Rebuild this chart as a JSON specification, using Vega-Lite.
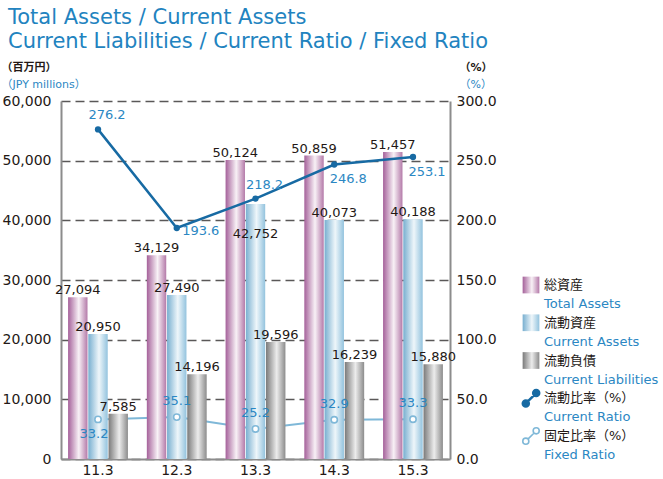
{
  "$schema": "https://vega.github.io/schema/vega-lite/v6.json",
  "background": "white",
  "padding": {"left": 1, "top": 7, "right": 0, "bottom": 0},
  "title": {
    "text": ["Total Assets / Current Assets", "Current Liabilities / Current Ratio / Fixed Ratio"],
    "anchor": "start",
    "frame": "bounds",
    "dx": 7,
    "offset": 9,
    "fontSize": 21,
    "lineHeight": 24,
    "fontWeight": "normal",
    "color": "#2283bf"
  },
  "datasets": {
    "fin": [
      {"year": "11.3", "total_assets": 27094, "current_assets": 20950, "current_liabilities": 7585, "current_ratio": 276.2, "fixed_ratio": 33.2},
      {"year": "12.3", "total_assets": 34129, "current_assets": 27490, "current_liabilities": 14196, "current_ratio": 193.6, "fixed_ratio": 35.1},
      {"year": "13.3", "total_assets": 50124, "current_assets": 42752, "current_liabilities": 19596, "current_ratio": 218.2, "fixed_ratio": 25.2},
      {"year": "14.3", "total_assets": 50859, "current_assets": 40073, "current_liabilities": 16239, "current_ratio": 246.8, "fixed_ratio": 32.9},
      {"year": "15.3", "total_assets": 51457, "current_assets": 40188, "current_liabilities": 15880, "current_ratio": 253.1, "fixed_ratio": 33.3}
    ],
    "legend": [
      {"order": 1, "key": "total_assets", "ja": "総資産", "en": "Total Assets"},
      {"order": 2, "key": "current_assets", "ja": "流動資産", "en": "Current Assets"},
      {"order": 3, "key": "current_liabilities", "ja": "流動負債", "en": "Current Liabilities"},
      {"order": 4, "key": "current_ratio", "ja": "流動比率（%）", "en": "Current Ratio"},
      {"order": 5, "key": "fixed_ratio", "ja": "固定比率（%）", "en": "Fixed Ratio"}
    ]
  },
  "spacing": 73,
  "bounds": "flush",
  "hconcat": [
    {
      "width": 389,
      "height": 358,
      "data": {"name": "fin"},
      "layer": [
        {
          "mark": {"type": "line", "color": "#7fb8d8", "strokeWidth": 2},
          "encoding": {
            "x": {"field": "year", "type": "nominal", "scale": {"paddingInner": 0.24, "paddingOuter": 0.09}, "axis": null},
            "y": {"field": "fixed_ratio", "type": "quantitative", "scale": {"domain": [0, 300]}, "axis": null}
          }
        },
        {
          "transform": [{"fold": ["total_assets", "current_assets", "current_liabilities"], "as": ["series", "amount"]}],
          "encoding": {
            "x": {
              "field": "year", "type": "nominal",
              "scale": {"paddingInner": 0.24, "paddingOuter": 0.09},
              "axis": {
                "orient": "bottom", "labelAngle": 0, "labelFontSize": 14, "labelColor": "#231815", "labelPadding": 4,
                "ticks": false, "domainColor": "#8c8c8c", "domainWidth": 2, "grid": false,
                "title": "（%）", "titleColor": "#2b87c3", "titleFontSize": 11, "titleFontWeight": "normal",
                "titleX": 398, "titleY": -375, "titleAlign": "left", "titleBaseline": "middle", "titleAngle": 0
              }
            },
            "xOffset": {"field": "series", "type": "nominal", "scale": {"domain": ["total_assets", "current_assets", "current_liabilities"], "paddingInner": 0.04}},
            "y": {
              "field": "amount", "type": "quantitative",
              "scale": {"domain": [0, 60000]},
              "axis": {
                "orient": "left", "values": [0, 10000, 20000, 30000, 40000, 50000, 60000], "format": ",.0f",
                "labelFontSize": 14, "labelColor": "#231815", "labelPadding": 10, "ticks": false,
                "domainColor": "#8c8c8c", "domainWidth": 2,
                "grid": true, "gridDash": [9, 5], "gridColor": "#5a5858", "gridWidth": 1.3,
                "title": "（百万円）", "titleColor": "#231815", "titleFontSize": 11, "titleFontWeight": "bold",
                "titleX": -60, "titleY": -34, "titleAlign": "left", "titleBaseline": "middle", "titleAngle": 0
              }
            }
          },
          "layer": [
            {
              "transform": [{"filter": "datum.series === 'total_assets'"}],
              "mark": {"type": "bar", "fill": {"gradient": "linear", "x1": 0, "x2": 1, "y1": 0, "y2": 0, "stops": [{"offset": 0, "color": "#a5619a"}, {"offset": 0.55, "color": "#f8f1f6"}, {"offset": 1, "color": "#b47aa9"}]}}
            },
            {
              "transform": [{"filter": "datum.series === 'current_assets'"}],
              "mark": {"type": "bar", "fill": {"gradient": "linear", "x1": 0, "x2": 1, "y1": 0, "y2": 0, "stops": [{"offset": 0, "color": "#78afd0"}, {"offset": 0.55, "color": "#eef6fa"}, {"offset": 1, "color": "#93c3de"}]}}
            },
            {
              "transform": [{"filter": "datum.series === 'current_liabilities'"}],
              "mark": {"type": "bar", "fill": {"gradient": "linear", "x1": 0, "x2": 1, "y1": 0, "y2": 0, "stops": [{"offset": 0, "color": "#7a7a7a"}, {"offset": 0.55, "color": "#ececec"}, {"offset": 1, "color": "#8c8c8c"}]}}
            },
            {
              "transform": [{"filter": "!(datum.year === '13.3' && datum.series === 'current_assets')"}],
              "mark": {"type": "text", "baseline": "alphabetic", "dy": -3, "fontSize": 13, "color": "#231815"},
              "encoding": {"text": {"field": "amount", "type": "quantitative", "format": ","}}
            },
            {
              "transform": [{"filter": "datum.year === '13.3' && datum.series === 'current_assets'"}],
              "mark": {"type": "text", "baseline": "alphabetic", "dy": 34, "fontSize": 13, "color": "#231815"},
              "encoding": {"text": {"field": "amount", "type": "quantitative", "format": ","}}
            }
          ]
        },
        {
          "encoding": {
            "x": {
              "field": "year", "type": "nominal",
              "scale": {"paddingInner": 0.24, "paddingOuter": 0.09},
              "axis": {
                "orient": "top", "labels": false, "ticks": false, "domain": false, "grid": false,
                "title": "（JPY millions）", "titleColor": "#2b87c3", "titleFontSize": 11, "titleFontWeight": "normal",
                "titleX": -60, "titleY": -17, "titleAlign": "left", "titleBaseline": "middle", "titleAngle": 0
              }
            }
          },
          "layer": [
            {
              "mark": {"type": "point", "filled": true, "fill": "white", "stroke": "#7fb8d8", "strokeWidth": 1.6, "size": 40, "opacity": 1},
              "encoding": {
                "y": {
                  "field": "fixed_ratio", "type": "quantitative", "scale": {"domain": [0, 300]},
                  "axis": {
                    "orient": "right", "values": [0, 50, 100, 150, 200, 250, 300], "format": ".1f",
                    "labelFontSize": 14, "labelColor": "#231815", "labelPadding": 6, "ticks": false,
                    "domainColor": "#8c8c8c", "domainWidth": 2, "grid": false,
                    "title": "（%）", "titleColor": "#231815", "titleFontSize": 11, "titleFontWeight": "bold",
                    "titleX": 9, "titleY": -34, "titleAlign": "left", "titleBaseline": "middle", "titleAngle": 0
                  }
                }
              }
            },
            {
              "mark": {"type": "line", "color": "#176aa3", "strokeWidth": 2.5},
              "encoding": {"y": {"field": "current_ratio", "type": "quantitative"}}
            },
            {
              "mark": {"type": "point", "filled": true, "color": "#176aa3", "size": 40, "opacity": 1},
              "encoding": {"y": {"field": "current_ratio", "type": "quantitative"}}
            },
            {
              "transform": [{"filter": "datum.year === '11.3' || datum.year === '13.3'"}],
              "mark": {"type": "text", "fontSize": 13, "color": "#2b87c3", "baseline": "middle", "dx": 9, "dy": -14},
              "encoding": {"y": {"field": "current_ratio", "type": "quantitative"}, "text": {"field": "current_ratio", "type": "quantitative", "format": ".1f"}}
            },
            {
              "transform": [{"filter": "datum.year === '14.3' || datum.year === '15.3'"}],
              "mark": {"type": "text", "fontSize": 13, "color": "#2b87c3", "baseline": "middle", "dx": 14, "dy": 15},
              "encoding": {"y": {"field": "current_ratio", "type": "quantitative"}, "text": {"field": "current_ratio", "type": "quantitative", "format": ".1f"}}
            },
            {
              "transform": [{"filter": "datum.year === '12.3'"}],
              "mark": {"type": "text", "fontSize": 13, "color": "#2b87c3", "baseline": "middle", "dx": 24, "dy": 3},
              "encoding": {"y": {"field": "current_ratio", "type": "quantitative"}, "text": {"field": "current_ratio", "type": "quantitative", "format": ".1f"}}
            },
            {
              "transform": [{"filter": "datum.year !== '11.3'"}],
              "mark": {"type": "text", "fontSize": 13, "color": "#2b87c3", "baseline": "middle", "dy": -16},
              "encoding": {"y": {"field": "fixed_ratio", "type": "quantitative"}, "text": {"field": "fixed_ratio", "type": "quantitative", "format": ".1f"}}
            },
            {
              "transform": [{"filter": "datum.year === '11.3'"}],
              "mark": {"type": "text", "fontSize": 13, "color": "#2b87c3", "baseline": "middle", "dx": -4, "dy": 15},
              "encoding": {"y": {"field": "fixed_ratio", "type": "quantitative"}, "text": {"field": "fixed_ratio", "type": "quantitative", "format": ".1f"}}
            }
          ]
        }
      ],
      "resolve": {"scale": {"y": "independent"}, "axis": {"x": "independent", "y": "independent"}}
    },
    {
      "width": 16,
      "height": 358,
      "data": {"name": "legend"},
      "encoding": {
        "y": {"field": "order", "type": "quantitative", "scale": {"domain": [-3.874, 5.609], "reverse": true, "zero": false, "nice": false}, "axis": null}
      },
      "layer": [
        {
          "transform": [{"filter": "datum.key === 'total_assets'"}],
          "mark": {"type": "point", "shape": "square", "size": 280, "filled": true, "opacity": 1, "strokeWidth": 0, "fill": {"gradient": "linear", "x1": 0, "x2": 1, "y1": 0, "y2": 0, "stops": [{"offset": 0, "color": "#a5619a"}, {"offset": 0.55, "color": "#f8f1f6"}, {"offset": 1, "color": "#b47aa9"}]}}
        },
        {
          "transform": [{"filter": "datum.key === 'current_assets'"}],
          "mark": {"type": "point", "shape": "square", "size": 280, "filled": true, "opacity": 1, "strokeWidth": 0, "fill": {"gradient": "linear", "x1": 0, "x2": 1, "y1": 0, "y2": 0, "stops": [{"offset": 0, "color": "#78afd0"}, {"offset": 0.55, "color": "#eef6fa"}, {"offset": 1, "color": "#93c3de"}]}}
        },
        {
          "transform": [{"filter": "datum.key === 'current_liabilities'"}],
          "mark": {"type": "point", "shape": "square", "size": 280, "filled": true, "opacity": 1, "strokeWidth": 0, "fill": {"gradient": "linear", "x1": 0, "x2": 1, "y1": 0, "y2": 0, "stops": [{"offset": 0, "color": "#7a7a7a"}, {"offset": 0.55, "color": "#ececec"}, {"offset": 1, "color": "#8c8c8c"}]}}
        },
        {
          "transform": [{"filter": "datum.key === 'current_ratio'"}],
          "mark": {"type": "point", "shape": "M-0.95,0.6a0.35,0.35 0 1,0 0.7,0a0.35,0.35 0 1,0 -0.7,0Z M0.25,-0.6a0.35,0.35 0 1,0 0.7,0a0.35,0.35 0 1,0 -0.7,0Z M-0.6,0.6L0.6,-0.6", "size": 300, "filled": true, "opacity": 1, "fill": "#176aa3", "stroke": "#176aa3", "strokeWidth": 2.5}
        },
        {
          "transform": [{"filter": "datum.key === 'fixed_ratio'"}],
          "mark": {"type": "point", "shape": "M-0.95,0.6a0.35,0.35 0 1,0 0.7,0a0.35,0.35 0 1,0 -0.7,0Z M0.25,-0.6a0.35,0.35 0 1,0 0.7,0a0.35,0.35 0 1,0 -0.7,0Z M-0.3525,0.3525L0.3525,-0.3525", "size": 300, "filled": false, "opacity": 1, "fill": "white", "stroke": "#7fb8d8", "strokeWidth": 1.6}
        },
        {
          "mark": {"type": "text", "align": "left", "baseline": "middle", "dx": 13, "fontSize": 13, "color": "#231815"},
          "encoding": {"text": {"field": "ja"}}
        },
        {
          "mark": {"type": "text", "align": "left", "baseline": "middle", "dx": 13, "dy": 19, "fontSize": 13, "color": "#2b87c3"},
          "encoding": {"text": {"field": "en"}}
        }
      ]
    }
  ],
  "config": {
    "font": "DejaVu Sans, Noto Sans CJK JP, sans-serif",
    "view": {"stroke": null}
  }
}
